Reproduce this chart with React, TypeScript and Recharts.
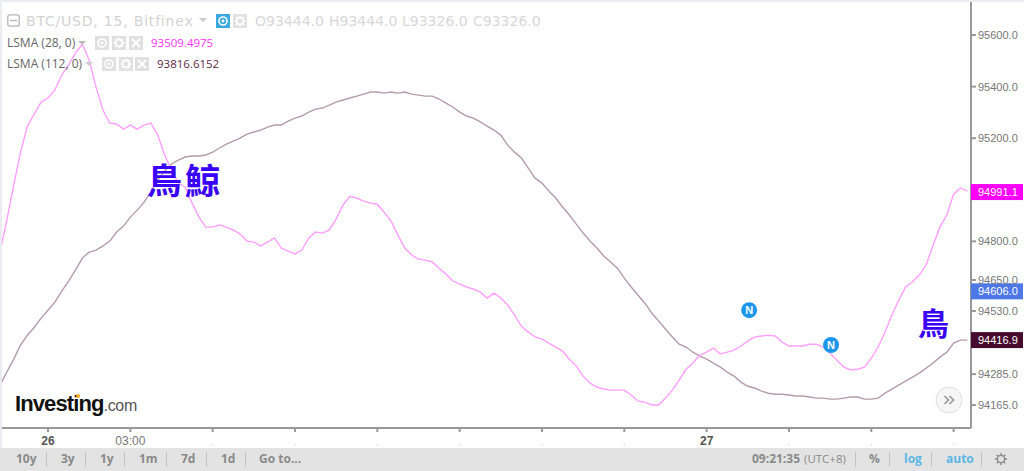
import React from "react";
import { ComposedChart, Line, XAxis, YAxis, ReferenceDot } from "recharts";

// Bars are 15 minutes apart; minutes counted from the start of the 26th.
const firstBarMinute = -105;
const barMinutes = 15;

const fastLsma = [
  94758, 94882, 95018, 95146, 95247, 95294, 95340, 95356, 95387, 95445, 95484, 95530, 95565, 95503, 95398, 95309,
  95259, 95255, 95235, 95251, 95235, 95251, 95259, 95212, 95135, 95076, 95026, 95010, 94948, 94894, 94855, 94855,
  94863, 94855, 94844, 94828, 94801, 94797, 94782, 94797, 94813, 94774, 94762, 94751, 94766, 94813, 94836, 94832,
  94844, 94886, 94941, 94975, 94968, 94956, 94948, 94944, 94913, 94878, 94824, 94774, 94747, 94731, 94727, 94720,
  94696, 94673, 94646, 94634, 94623, 94615, 94603, 94580, 94599, 94580, 94553, 94514, 94471, 94448, 94429, 94421,
  94405, 94390, 94374, 94343, 94316, 94277, 94250, 94235, 94227, 94223, 94223, 94223, 94204, 94180, 94176, 94165,
  94165, 94192, 94223, 94262, 94304, 94328, 94359, 94370, 94386, 94363, 94370, 94378, 94394, 94413, 94429, 94433,
  94436, 94433, 94409, 94394, 94394, 94394, 94401, 94401, 94390, 94366, 94339, 94312, 94301, 94304, 94312, 94347,
  94390, 94448, 94514, 94572, 94623, 94642, 94669, 94708, 94785, 94855, 94902, 94983, 95007, 94995,
];

const slowLsma = [
  94242, 94293, 94343, 94398, 94436, 94467, 94502, 94533, 94564, 94607, 94646, 94688, 94735, 94758, 94766, 94782,
  94801, 94836, 94859, 94894, 94921, 94952, 94991, 95038, 95073, 95100, 95115, 95127, 95131, 95131, 95135, 95146,
  95162, 95177, 95189, 95200, 95216, 95224, 95231, 95243, 95251, 95251, 95266, 95278, 95286, 95301, 95313, 95317,
  95328, 95340, 95348, 95356, 95363, 95371, 95379, 95379, 95375, 95379, 95375, 95379, 95371, 95367, 95363, 95363,
  95352, 95336, 95321, 95301, 95286, 95278, 95263, 95247, 95231, 95212, 95173, 95146, 95123, 95084, 95045, 95026,
  94995, 94968, 94933, 94902, 94867, 94832, 94801, 94774, 94743, 94720, 94696, 94657, 94623, 94591, 94560, 94522,
  94491, 94460, 94429, 94401, 94390, 94370, 94355, 94343, 94328, 94312, 94293, 94277, 94254, 94238, 94231, 94219,
  94211, 94207, 94207, 94204, 94200, 94200, 94196, 94192, 94192, 94188, 94188, 94192, 94196, 94196, 94188, 94188,
  94192, 94211, 94227, 94242, 94258, 94273, 94289, 94308, 94328, 94351, 94370, 94405, 94417, 94417,
];

const chartData = fastLsma.map((fast, i) => ({
  minute: firstBarMinute + i * barMinutes,
  fast,
  slow: slowLsma[i],
}));

const priceTicks = [95600, 95400, 95200, 94800, 94650, 94530, 94285, 94165];
const timeTicks = [0, 180, 360, 540, 720, 900, 1080, 1260, 1440, 1620, 1800, 1980];
const timeLabels: Record<number, string> = { 0: "26", 180: "03:00", 1440: "27" };
const priceTags = [
  { value: 94991.1, color: "#ff00ff" },
  { value: 94606.0, color: "#4d78e6" },
  { value: 94416.9, color: "#470b2e" },
];
const newsMarks = [
  { minute: 1533, price: 94533 },
  { minute: 1712, price: 94398 },
];
const leftRanges = ["10y", "3y", "1y", "1m", "7d", "1d", "Go to..."];
const rightTools = ["%", "log", "auto"];

const sansFont = "'Liberation Sans', Arial, sans-serif";
const uiFont = "'DejaVu Sans', sans-serif";
const smallFont = "'Open Sans', sans-serif";

const TimeTick = (props: any) => {
  const { x, y, payload } = props;
  const label = timeLabels[payload.value];
  const isDay = label && label.length === 2;
  return (
    <g>
      <text
        x={x}
        y={y + 11}
        textAnchor="middle"
        fontFamily={sansFont}
        fontSize={label ? 12 : 9}
        fontWeight={isDay ? 700 : 400}
        fill={isDay ? "#555" : label ? "#777" : "#bbb"}
      >
        {label ?? "."}
      </text>
    </g>
  );
};

const PriceTag = (color: string, value: number) => (props: any) => {
  const { cx, cy } = props;
  return (
    <g>
      <rect x={cx} y={cy - 8} width={52} height={16} fill={color} />
      <text x={cx + 7} y={cy + 4} fontFamily={sansFont} fontSize={11} fill="#fff">
        {value.toFixed(1)}
      </text>
    </g>
  );
};

const NewsBadge = (props: any) => {
  const { cx, cy } = props;
  return (
    <g>
      <circle cx={cx} cy={cy} r={8} fill="#1d97ee" />
      <text x={cx} y={cy + 4} textAnchor="middle" fontFamily={sansFont} fontSize={11} fontWeight={700} fill="#fff">
        N
      </text>
    </g>
  );
};

const Box = ({ x, y, w = 14, bg = "#e0e0e0", kind }: { x: number; y: number; w?: number; bg?: string; kind: string }) => (
  <svg style={{ position: "absolute", left: x, top: y }} width={w} height={14} viewBox="0 0 14 14">
    <rect width="14" height="14" fill={bg} />
    {kind === "eye" && (
      <>
        <circle cx="7" cy="7" r="4" fill="none" stroke="#fff" strokeWidth="1.6" />
        <circle cx="7" cy="7" r="1.4" fill="#fff" />
      </>
    )}
    {kind === "gear" && (
      <>
        <circle cx="7" cy="7" r="3.4" fill="none" stroke="#fff" strokeWidth="2" />
        <path d="M7 1.5V4M7 10v2.5M1.5 7H4M10 7h2.5M3 3l1.7 1.7M9.3 9.3 11 11M11 3 9.3 4.7M4.7 9.3 3 11" stroke="#fff" strokeWidth="1.4" />
      </>
    )}
    {kind === "x" && <path d="M3 3 11 11M11 3 3 11" stroke="#fff" strokeWidth="1.8" />}
  </svg>
);

const Txt = ({ x, y, children, style }: { x: number; y: number; children: React.ReactNode; style?: React.CSSProperties }) => (
  <div style={{ position: "absolute", left: x, top: y, whiteSpace: "nowrap", lineHeight: 1, ...style }}>{children}</div>
);

const leftRangeX = [16, 61, 100, 139, 181, 221, 259];
const leftSepX = [46, 85, 124, 166, 206, 245];
const rightSepX = [855, 889, 931, 981];
const rightToolX = [869, 904, 946];

const footText: React.CSSProperties = { fontFamily: smallFont, fontSize: 12, color: "#8a8a8a", fontWeight: 700 };

export default function App() {
  return (
    <div style={{ position: "fixed", left: 0, top: 0, width: 1024, height: 471, background: "#fff", overflow: "hidden" }}>
      <div style={{ position: "absolute", left: 0, top: 0 }}>
        <ComposedChart width={1024} height={471} data={chartData} margin={{ top: 0, right: 0, bottom: 0, left: 0 }}>
          <XAxis
            dataKey="minute"
            type="number"
            domain={[-105, 2018]}
            ticks={timeTicks}
            interval={0}
            height={43}
            stroke="#999"
            strokeWidth={2}
            tickSize={4}
            tick={<TimeTick />}
            allowDataOverflow
          />
          <YAxis
            orientation="right"
            type="number"
            domain={[94076, 95736]}
            ticks={priceTicks}
            interval={0}
            width={53}
            stroke="#999"
            strokeWidth={2}
            tickSize={5}
            tickMargin={2}
            tickFormatter={(v: number) => v.toFixed(1)}
            tick={{ fontFamily: sansFont, fontSize: 11, fill: "#777" }}
            allowDataOverflow
          />
          <Line dataKey="slow" stroke="#b59ca9" strokeWidth={1.4} dot={false} activeDot={false} isAnimationActive={false} />
          <Line dataKey="fast" stroke="#ff9fff" strokeWidth={1.4} dot={false} activeDot={false} isAnimationActive={false} />
          {priceTags.map((t) => (
            <ReferenceDot
              key={t.value}
              x={2018}
              y={t.value}
              ifOverflow="visible"
              shape={PriceTag(t.color, t.value)}
            />
          ))}
          {newsMarks.map((n) => (
            <ReferenceDot key={n.minute} x={n.minute} y={n.price} ifOverflow="visible" shape={NewsBadge} />
          ))}
        </ComposedChart>
      </div>

      <div style={{ position: "absolute", left: 0, top: 0, width: 1024, height: 2, background: "#ebebf2" }} />
      <div style={{ position: "absolute", left: 0, top: 0, width: 2, height: 448, background: "#ebebf2" }} />

      {/* legend */}
      <svg style={{ position: "absolute", left: 7, top: 14 }} width={14} height={14} viewBox="0 0 14 14">
        <rect x="0.8" y="0.8" width="11.4" height="11.4" rx="2" fill="none" stroke="#b5b5b5" strokeWidth="1.3" />
        <path d="M3 6.5h7" stroke="#b5b5b5" strokeWidth="1.3" />
      </svg>
      <Txt x={26} y={14} style={{ fontFamily: uiFont, fontSize: 14, color: "#d3d3d3", letterSpacing: 0.8 }}>BTC/USD, 15, Bitfinex</Txt>
      <svg style={{ position: "absolute", left: 199, top: 18 }} width={9} height={5}><path d="M0 0h8L4 4z" fill="#c8c8c8" /></svg>
      <Box x={216} y={14} bg="#3ba8e0" kind="eye" />
      <Box x={233} y={14} kind="gear" />
      <Txt x={255} y={14} style={{ fontFamily: uiFont, fontSize: 14, color: "#d8d8d8" }}>O93444.0</Txt>
      <Txt x={329} y={14} style={{ fontFamily: uiFont, fontSize: 14, color: "#d8d8d8" }}>H93444.0</Txt>
      <Txt x={402} y={14} style={{ fontFamily: uiFont, fontSize: 14, color: "#d8d8d8" }}>L93326.0</Txt>
      <Txt x={473} y={14} style={{ fontFamily: uiFont, fontSize: 14, color: "#d8d8d8" }}>C93326.0</Txt>

      <Txt x={7} y={37} style={{ fontFamily: smallFont, fontSize: 12, color: "#666" }}>LSMA (28, 0)</Txt>
      <svg style={{ position: "absolute", left: 78, top: 41 }} width={9} height={5}><path d="M0 0h8L4 4z" fill="#bbb" /></svg>
      <Box x={95} y={36} kind="eye" />
      <Box x={112} y={36} kind="gear" />
      <Box x={129} y={36} kind="x" />
      <Txt x={151} y={37} style={{ fontFamily: smallFont, fontSize: 11.5, color: "#ff33ff" }}>93509.4975</Txt>

      <Txt x={7} y={58} style={{ fontFamily: smallFont, fontSize: 12, color: "#666" }}>LSMA (112, 0)</Txt>
      <svg style={{ position: "absolute", left: 85, top: 62 }} width={9} height={5}><path d="M0 0h8L4 4z" fill="#ccc" /></svg>
      <Box x={102} y={57} kind="eye" />
      <Box x={119} y={57} kind="gear" />
      <Box x={135} y={57} kind="x" />
      <Txt x={157} y={58} style={{ fontFamily: smallFont, fontSize: 11.5, color: "#5e2b49" }}>93816.6152</Txt>

      {/* handwritten notes */}
      <Txt x={147} y={161} style={{ fontFamily: "'Noto Sans CJK TC', sans-serif", fontWeight: 700, fontSize: 35, color: "#3a00f5" }}>鳥</Txt>
      <Txt x={185} y={161} style={{ fontFamily: "'Noto Sans CJK TC', sans-serif", fontWeight: 700, fontSize: 35, color: "#3a00f5" }}>鯨</Txt>
      <Txt x={918} y={306} style={{ fontFamily: "'Noto Sans CJK TC', sans-serif", fontWeight: 700, fontSize: 31, color: "#3a00f5" }}>鳥</Txt>

      {/* logo */}
      <Txt x={15} y={393} style={{ fontFamily: sansFont, fontWeight: 700, fontSize: 22, color: "#111", letterSpacing: -0.9 }}>
        Investing<span style={{ fontWeight: 400, fontSize: 16, color: "#555", letterSpacing: -0.3 }}>.com</span>
      </Txt>
      <div style={{ position: "absolute", left: 76, top: 394, width: 4, height: 4, borderRadius: 2, background: "#f5a623" }} />

      {/* scroll button */}
      <svg style={{ position: "absolute", left: 935, top: 386 }} width={28} height={28}>
        <circle cx="14" cy="14" r="13" fill="#f6f6f6" stroke="#dedede" />
        <path d="M9.5 10l4 4-4 4M14.5 10l4 4-4 4" fill="none" stroke="#999" strokeWidth="1.7" />
      </svg>

      {/* footer */}
      <div style={{ position: "absolute", left: 0, top: 448, width: 1024, height: 23, background: "#e3e3e3" }} />
      {leftRanges.map((r, i) => (
        <Txt key={r} x={leftRangeX[i]} y={453} style={footText}>{r}</Txt>
      ))}
      {leftSepX.map((x) => (
        <div key={x} style={{ position: "absolute", left: x, top: 452, width: 1, height: 15, background: "#c4c4c4" }} />
      ))}
      {rightSepX.map((x) => (
        <div key={x} style={{ position: "absolute", left: x, top: 452, width: 1, height: 15, background: "#c4c4c4" }} />
      ))}
      <Txt x={752} y={453} style={footText}>09:21:35</Txt>
      <Txt x={804} y={453} style={{ ...footText, fontWeight: 400, fontSize: 11.5 }}>(UTC+8)</Txt>
      {rightTools.map((t, i) => (
        <Txt key={t} x={rightToolX[i]} y={453} style={{ ...footText, color: t === "%" ? "#8a8a8a" : "#5ab7e6" }}>{t}</Txt>
      ))}
      <svg style={{ position: "absolute", left: 994, top: 452 }} width={14} height={14} viewBox="0 0 14 14">
        <circle cx="7" cy="7" r="3.6" fill="none" stroke="#8a8a8a" strokeWidth="1.4" />
        <path d="M7 1V3.4M7 10.6V13M1 7H3.4M10.6 7H13M2.8 2.8l1.7 1.7M9.5 9.5l1.7 1.7M11.2 2.8 9.5 4.5M4.5 9.5l-1.7 1.7" stroke="#8a8a8a" strokeWidth="1.4" />
      </svg>
    </div>
  );
}
